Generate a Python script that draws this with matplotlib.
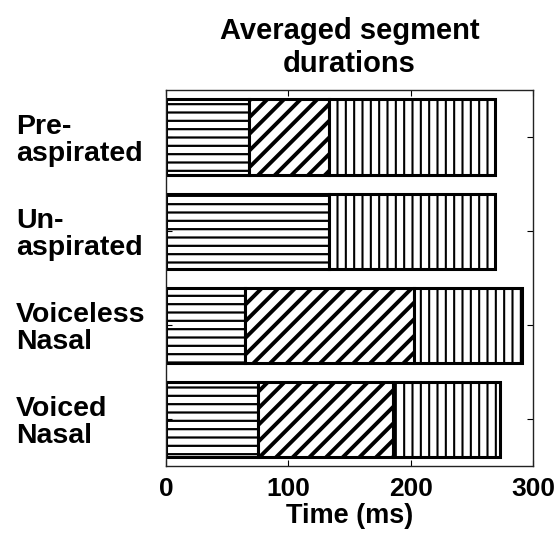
import numpy as np
import matplotlib
matplotlib.use("Agg")
import matplotlib.pyplot as plt

plt.rcParams['font.family'] = ['Liberation Sans', 'DejaVu Sans']
plt.rcParams['font.weight'] = 'bold'
plt.rcParams['hatch.linewidth'] = 1.6

categories = ['Pre-\naspirated', 'Un-\naspirated', 'Voiceless\nNasal', 'Voiced\nNasal']

# segment durations (ms) for each category
seg1 = [68, 133, 65, 75]
seg2 = [65, 0, 138, 111]
seg3 = [136, 136, 88, 87]
hatches = ['--', '//', '||']
hatch_lw = [1.6, 2.8, 1.5]

fig = plt.figure(figsize=(5.58, 5.33), dpi=100)
ax = fig.add_axes([0.2975, 0.125, 0.6575, 0.706])

y = np.arange(len(categories))
left = np.zeros(len(categories))
for seg, h, hl in zip([seg1, seg2, seg3], hatches, hatch_lw):
    seg = np.array(seg)
    mask = seg > 0
    bars = ax.barh(y[mask], seg[mask], left=left[mask], height=0.8,
                   color='white', edgecolor='black', linewidth=2.2, hatch=h)
    for b in bars:
        if hasattr(b, 'set_hatch_linewidth'):
            b.set_hatch_linewidth(hl)
    left = left + seg

ax.set_xlim(0, 300)
ax.set_ylim(3.5, -0.5)
ax.set_xticks([0, 100, 200, 300])
ax.set_yticks(y)
ax.set_yticklabels(categories, fontsize=20.5, fontweight='bold', ha='left',
                   linespacing=1.05)
for lbl in ax.get_yticklabels():
    lbl.set_y(lbl.get_position()[1])
ax.tick_params(axis='y', direction='in', right=True, length=4, pad=108)
ax.tick_params(axis='x', direction='in', top=True, length=4, pad=8, labelsize=19)
for s in ax.spines.values():
    s.set_linewidth(1.0)
    s.set_color('#222222')

ax.set_xlabel('Time (ms)', fontsize=19.5, fontweight='bold', labelpad=1)
ax.set_title('Averaged segment\ndurations', fontsize=21, fontweight='bold',
             pad=13, linespacing=1.25)

fig.savefig('out.png', dpi=100)
